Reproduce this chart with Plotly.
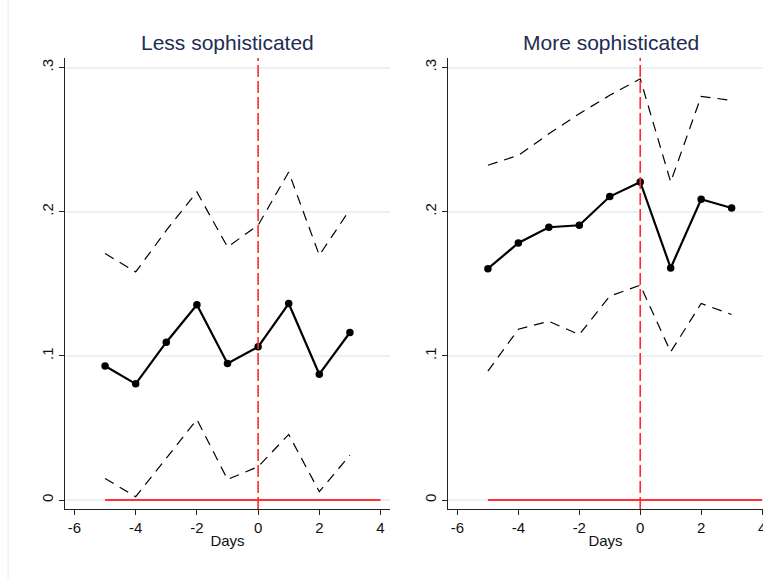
import plotly.graph_objects as go

days = [-5, -4, -3, -2, -1, 0, 1, 2, 3]

less_est = [0.093, 0.0806, 0.1095, 0.1354, 0.0947, 0.1063, 0.1363, 0.0873, 0.1162]
less_hi = [0.171, 0.1582, 0.187, 0.2137, 0.1755, 0.1906, 0.2275, 0.1698, 0.2015]
less_lo = [0.015, 0.0023, 0.029, 0.0559, 0.0143, 0.0231, 0.0455, 0.0058, 0.0312]

more_est = [0.1605, 0.1783, 0.1892, 0.1906, 0.2105, 0.2206, 0.161, 0.2086, 0.2026]
more_hi = [0.2322, 0.2391, 0.254, 0.268, 0.2807, 0.2922, 0.2206, 0.28, 0.2772]
more_lo = [0.0894, 0.1185, 0.124, 0.1148, 0.1414, 0.149, 0.1028, 0.1363, 0.1287]

zero_line_x = [-5, 4]
zero_line_y = [0, 0]
event_day = 0

x_ticks = [-6, -4, -2, 0, 2, 4]
x_ticklabels = ["-6", "-4", "-2", "0", "2", "4"]
y_ticks = [0, 0.1, 0.2, 0.3]
y_ticklabels = ["0", ".1", ".2", ".3"]

panel_titles = ["Less sophisticated", "More sophisticated"]
x_title = "Days"

W, H = 763, 583
FONT = "Liberation Sans, Arial, sans-serif"

fig = go.Figure()

panels = [
    (less_est, less_hi, less_lo, "x", "y"),
    (more_est, more_hi, more_lo, "x2", "y2"),
]
for est, hi, lo, xa, ya in panels:
    fig.add_trace(go.Scatter(x=zero_line_x, y=zero_line_y, mode="lines",
                             line=dict(color="#ff3333", width=2),
                             xaxis=xa, yaxis=ya, showlegend=False, hoverinfo="skip",
                             cliponaxis=False))
    for band in (hi, lo):
        fig.add_trace(go.Scatter(x=days, y=band, mode="lines",
                                 line=dict(color="black", width=1.2, dash="10px,7px"),
                                 xaxis=xa, yaxis=ya, showlegend=False))
    fig.add_trace(go.Scatter(x=days, y=est, mode="lines+markers",
                             line=dict(color="black", width=2.2),
                             marker=dict(color="black", size=7.5),
                             xaxis=xa, yaxis=ya, showlegend=False))

# vertical event lines
for xa in ("x", "x2"):
    ya = "y" if xa == "x" else "y2"
    fig.add_shape(type="line", xref=xa, yref=ya + " domain",
                  x0=event_day, x1=event_day, y0=0, y1=1,
                  line=dict(color="#ff2a2a", width=1.6, dash="12px,4px"), layer="above")

y_bot, y_top = 509, 58
ydom = [(H - y_bot) / H, (H - y_top) / H]
yrange = [-0.0062, 0.3066]

axis_common = dict(
    showline=True, linecolor="#222", linewidth=1.3,
    ticks="outside", ticklen=5, tickcolor="#222", tickwidth=1.2,
    tickfont=dict(family=FONT, size=15, color="#111"),
    zeroline=False, automargin=False, ticklabeloverflow="allow",
)

xcommon = dict(axis_common, tickvals=x_ticks, ticktext=x_ticklabels, showgrid=False,
               title=dict(text=x_title, font=dict(family=FONT, size=15, color="#111"), standoff=0))
ycommon = dict(axis_common, tickvals=y_ticks, ticktext=y_ticklabels, tickangle=-90,
               showgrid=True, gridcolor="#eaf2f3", gridwidth=1.5, range=yrange, domain=ydom)

fig.update_layout(
    width=W, height=H,
    margin=dict(l=0, r=0, t=0, b=0),
    paper_bgcolor="white", plot_bgcolor="white",
    font=dict(family=FONT),
    xaxis=dict(xcommon, domain=[65 / W, 390 / W], range=[-6.31, 4.31], anchor="y"),
    yaxis=dict(ycommon, anchor="x"),
    xaxis2=dict(xcommon, domain=[448 / W, 1.0], range=[-6.31, 4.03], anchor="y2"),
    yaxis2=dict(ycommon, anchor="x2"),
)

# panel titles
for title, cx in zip(panel_titles, [(65 + 390) / 2, (448 + 773) / 2]):
    fig.add_annotation(text=title, x=cx / W, y=(H - 43) / H, xref="paper", yref="paper",
                       showarrow=False, xanchor="center", yanchor="middle",
                       font=dict(family=FONT, size=21, color="#1e2c52"))

# faint border line at left edge
fig.add_shape(type="line", xref="paper", yref="paper", x0=8 / W, x1=8 / W,
              y0=(H - 580) / H, y1=1, line=dict(color="#e6eef0", width=1))

fig.write_html("out.html", config={"displayModeBar": False},
               post_script="document.body.style.margin='0';document.body.style.overflow='hidden';")
